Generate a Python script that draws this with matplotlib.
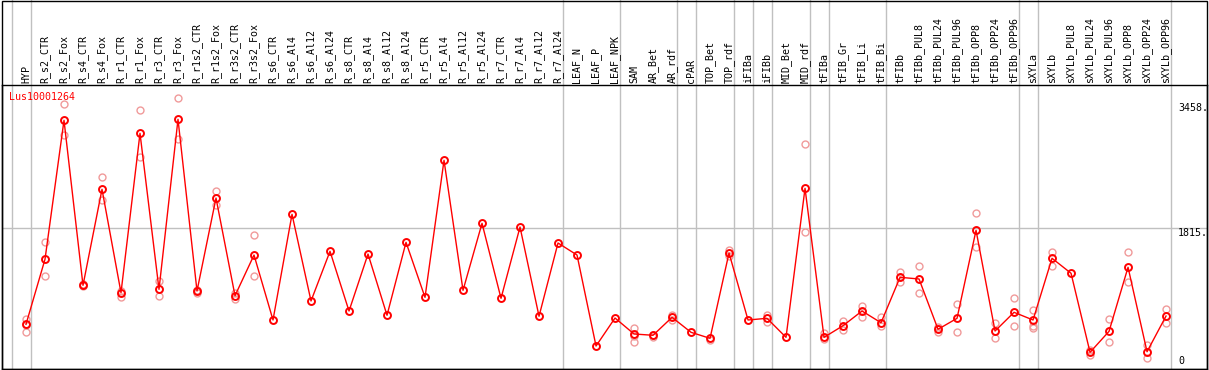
import matplotlib.pyplot as plt
from matplotlib.patches import Rectangle
from matplotlib.transforms import blended_transform_factory

#----- Data -----
gene = "Lus10001264"
samples = [
    "HYP", "R_s2_CTR", "R_s2_Fox", "R_s4_CTR", "R_s4_Fox", "R_r1_CTR", "R_r1_Fox",
    "R_r3_CTR", "R_r3_Fox", "R_r1s2_CTR", "R_r1s2_Fox", "R_r3s2_CTR", "R_r3s2_Fox",
    "R_s6_CTR", "R_s6_Al4", "R_s6_Al12", "R_s6_Al24", "R_s8_CTR", "R_s8_Al4",
    "R_s8_Al12", "R_s8_Al24", "R_r5_CTR", "R_r5_Al4", "R_r5_Al12", "R_r5_Al24",
    "R_r7_CTR", "R_r7_Al4", "R_r7_Al12", "R_r7_Al24", "LEAF_N", "LEAF_P", "LEAF_NPK",
    "SAM", "AR_Bet", "AR_rdf", "cPAR", "TOP_Bet", "TOP_rdf", "iFIBa", "iFIBb",
    "MID_Bet", "MID_rdf", "tFIBa", "tFIB_Gr", "tFIB_Li", "tFIB_Bi", "tFIBb",
    "tFIBb_PUL8", "tFIBb_PUL24", "tFIBb_PUL96", "tFIBb_OPP8", "tFIBb_OPP24",
    "tFIBb_OPP96", "sXYLa", "sXYLb", "sXYLb_PUL8", "sXYLb_PUL24", "sXYLb_PUL96",
    "sXYLb_OPP8", "sXYLb_OPP24", "sXYLb_OPP96",
]
means = [
    553, 1408, 3235, 1066, 2328, 969, 3064, 1013, 3248, 991, 2213, 929, 1464,
    610, 1999, 860, 1513, 728, 1477, 672, 1631, 908, 2709, 1000, 1881,
    895, 1832, 659, 1622, 1464, 268, 636,
    426, 409, 645, 448, 369, 1491, 610, 632, 382, 2341,
    382, 535, 728, 574, 1171, 1149, 488, 632, 1789, 465, 711,
    610, 1421, 1224, 185, 461, 1303, 193, 662,
]
replicates = [
    [623, 544, 452], [1631, 1184], [3445, 3042], [1079, 1053], [2486, 2187],
    [995, 916], [3366, 2756], [1123, 921], [3524, 2985], [1004, 964],
    [2302, 2118], [964, 886], [1727, 1192],
    [], [], [], [], [], [], [], [], [], [], [], [], [], [], [], [], [], [], [],
    [501, 400, 325], [390, 419], [672, 610], [], [347], [1530, 1451], [],
    [680, 580], [], [2919, 1763],
    [435, 356], [597, 478], [798, 653], [653, 535], [1245, 1105], [1320, 961],
    [522, 456], [820, 448], [2012, 1565], [574, 369], [895, 535],
    [741, 531, 501], [1500, 1324], [], [216, 150], [623, 317], [1500, 1105],
    [281, 114], [751, 574],
]
# last sample of each group (grey separators drawn just after them)
group_ends = [-1, 0, 28, 31, 34, 35, 37, 38, 39, 41, 42, 45, 52, 53, 60]
scale_ticks = [0, 1815, 3458]

#----- Plot -----
plt.rcParams["font.family"] = "DejaVu Sans Mono"
W, H = 1209, 370
fig = plt.figure(figsize=(W / 100, H / 100), dpi=100)
ax = fig.add_axes([1.7 / W, 1 / H, 1205 / W, 284 / H])

ax.set_xlim(-1.279, 62.14)
ax.set_ylim(-34.2, 3699)
ax.set_xticks([])
ax.set_yticks([])
for sp in ax.spines.values():
    sp.set_linewidth(1)
    sp.set_color("black")

# outer frame including header
fig.add_artist(Rectangle((1.7 / W, 1 / H), 1205 / W, 368.5 / H, transform=fig.transFigure,
                         fill=False, ec="black", lw=1))

grey = "#c0c0c0"
ax.axhline(scale_ticks[1], color=grey, lw=1, zorder=1)
for g in group_ends:
    ax.axvline(g + 0.24, ymin=0, ymax=369 / 284, color=grey, lw=1, clip_on=False, zorder=1)

xs = list(range(len(samples)))
for i, reps in enumerate(replicates):
    if reps:
        ax.plot([i] * len(reps), reps, "o", ms=5, mfc="none", mec="#f09a9a", mew=1, zorder=2)
ax.plot(xs, means, color="red", lw=1, zorder=3)
ax.plot(xs, means, "o", ms=5, mfc="none", mec="red", mew=1.4, zorder=4)

trans = blended_transform_factory(ax.transData, ax.transAxes)
for i, name in enumerate(samples):
    ax.text(i, 1.008, name, rotation=90, ha="center", va="bottom", fontsize=7.2,
            transform=trans, clip_on=False)

ax.text(0.0063, 0.959, gene, color="red", fontsize=7.2, ha="left", va="center",
        transform=ax.transAxes)

for t in scale_ticks:
    lab = str(t) if t == 0 else f"{t}."
    ax.text(60.63, t, lab, fontsize=7.2, ha="left", va="bottom" if t == 0 else "top")

fig.savefig("out.png", dpi=100)
